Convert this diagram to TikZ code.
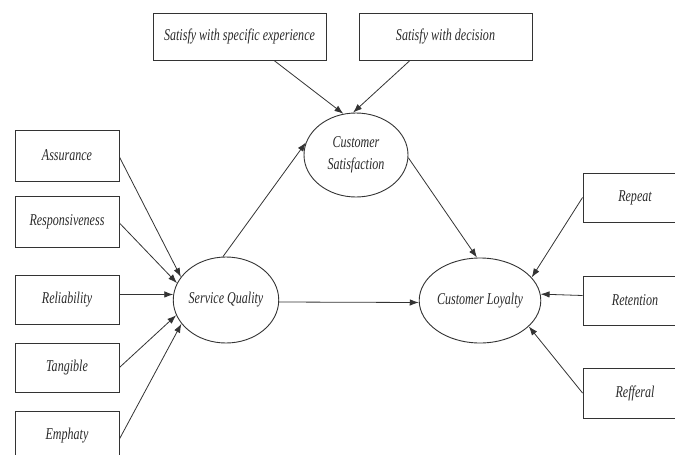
\documentclass[tikz,border=0pt]{standalone}
\usepackage{fontspec}
\setmainfont{Liberation Serif}[FakeStretch=0.73]
\usetikzlibrary{arrows.meta,shapes.geometric}
\definecolor{ln}{HTML}{333333}
\tikzset{
  box/.style={draw=ln,line width=0.9pt,rectangle,inner sep=0pt,font=\fontsize{16.5}{20}\selectfont\itshape,text=ln!80!black},
  lbox/.style={box,minimum width=104pt,minimum height=50pt},
  tbox/.style={box,minimum width=173pt,minimum height=47pt},
  oval/.style={draw=ln,line width=0.9pt,ellipse,inner sep=0pt,minimum width=104pt,minimum height=85pt,align=center,font=\fontsize{16.5}{22}\selectfont\itshape,text=ln!80!black},
  arr/.style={draw=ln,line width=0.8pt,-{Latex[length=9pt,width=6.5pt]}}
}
\begin{document}
\begin{tikzpicture}[x=1pt,y=-1pt]
\useasboundingbox (0,0) rectangle (675,455);
\clip (0,0) rectangle (675,455);
% left boxes
\node[lbox,minimum height=51pt] (ass) at (67,155.5) {Assurance};
\node[lbox,minimum height=51pt] (res) at (67,221.5) {Responsiveness};
\node[lbox,minimum height=49pt] (rel) at (67,299.5) {Reliability};
\node[lbox,minimum height=49pt] (tan) at (67,367.5) {Tangible};
\node[lbox] (emp) at (67,436) {Emphaty};
% top boxes
\node[tbox] (swse) at (239.5,36.5) {Satisfy with specific experience};
\node[tbox] (swd) at (445.5,36.5) {Satisfy with decision};
% right boxes
\node[lbox,minimum height=49pt] (rep) at (635,197.5) {Repeat};
\node[lbox,minimum height=49pt] (ret) at (635,300.5) {Retention};
\node[lbox,minimum height=50pt] (ref) at (635,393) {Refferal};
% ellipses
\node[oval,minimum height=86pt] (sq) at (226,300) {Service Quality};
\node[oval,minimum height=84pt] (cs) at (356,155) {Customer\\Satisfaction};
\node[oval] (cl) at (480,300.5) {Customer Loyalty};
% arrows into service quality
\draw[arr] ([yshift=-1.5pt]ass.east) -- (sq.153);
\draw[arr] ([yshift=-1.5pt]res.east) -- (sq.161);
\draw[arr] ([yshift=5pt]rel.east) -- (sq.174);
\draw[arr] (tan.east) -- (sq.197);
\draw[arr] ([yshift=-3pt]emp.east) -- (sq.208);
% structural paths
\draw[arr] (sq.94) -- (cs.166);
\draw[arr] ([yshift=-2pt]sq.east) -- ([yshift=-2pt]cl.west);
\draw[arr] (cs.-3) -- (cl.94);
% satisfaction indicators
\draw[arr] ([xshift=34.5pt]swse.south) -- (cs.107);
\draw[arr] ([xshift=-35.5pt]swd.south) -- (cs.94);
% loyalty indicators
\draw[arr] (rep.west) -- (cl.24);
\draw[arr] ([yshift=5pt]ret.west) -- (cl.6);
\draw[arr] (ref.west) -- (cl.332);
\end{tikzpicture}
\end{document}
